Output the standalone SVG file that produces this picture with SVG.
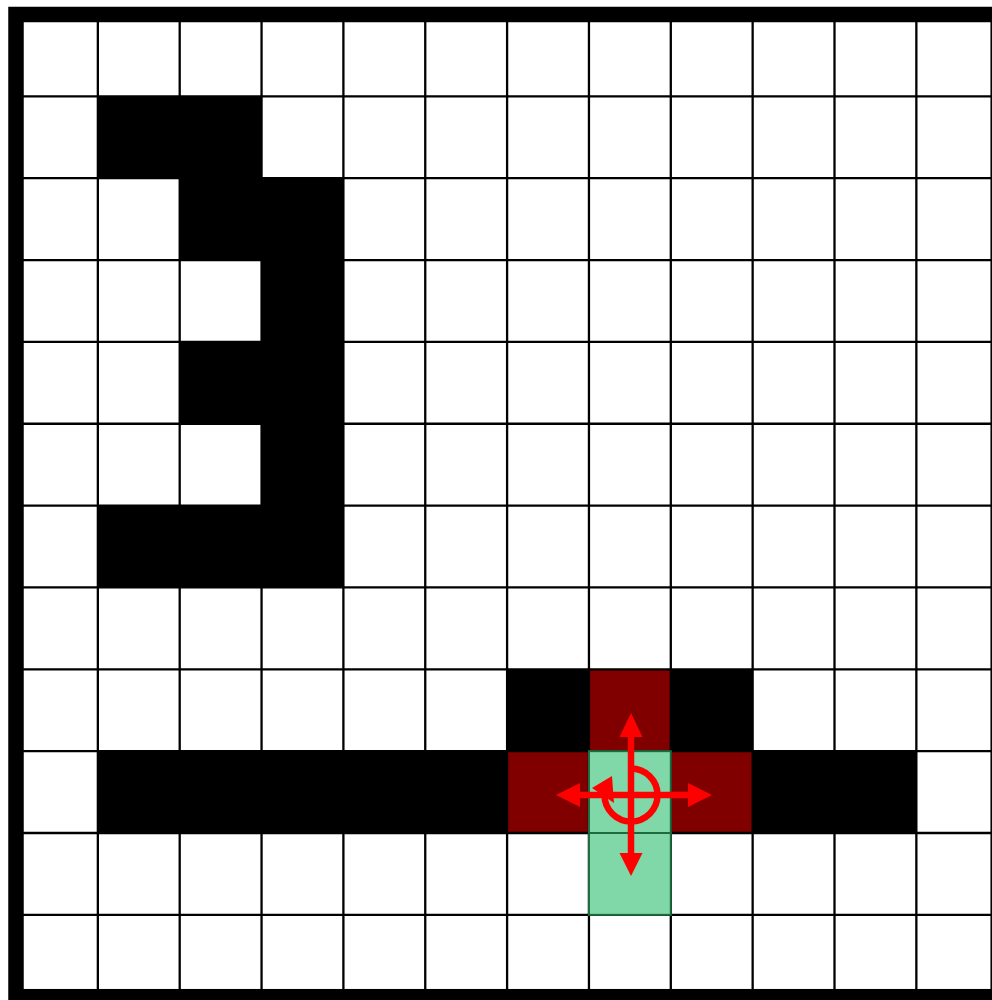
<svg xmlns="http://www.w3.org/2000/svg" width="992" height="1000" viewBox="0 0 992 1000">
<style>
.blk{fill:#000}
.red{fill:#800000}
.grn{fill:#80d8a8;stroke:#1f6a3e;stroke-width:2}
.gl{stroke:#000;stroke-width:2.3}
.arr{fill:#ff0000}
.shaft{stroke:#ff0000;stroke-width:6.5;fill:none}
</style>
<rect id="background" x="0" y="0" width="992" height="1000" fill="#fff"/>
<g id="walls">
<rect class="blk" x="97.85" y="96.35" width="163.7" height="81.85"/>
<rect class="blk" x="179.7" y="178.2" width="163.7" height="81.85"/>
<rect class="blk" x="261.55" y="260.05" width="81.85" height="81.85"/>
<rect class="blk" x="179.7" y="341.9" width="163.7" height="81.85"/>
<rect class="blk" x="261.55" y="423.75" width="81.85" height="81.85"/>
<rect class="blk" x="97.85" y="505.6" width="245.55" height="81.85"/>
<rect class="blk" x="507.1" y="669.3" width="81.85" height="81.85"/>
<rect class="blk" x="670.8" y="669.3" width="81.85" height="81.85"/>
<rect class="blk" x="97.85" y="751.15" width="409.25" height="81.85"/>
<rect class="blk" x="752.65" y="751.15" width="163.7" height="81.85"/>
</g>
<g id="neighbours">
<rect class="red" x="588.95" y="669.3" width="81.85" height="81.85"/>
<rect class="red" x="507.1" y="751.15" width="81.85" height="81.85"/>
<rect class="red" x="670.8" y="751.15" width="81.85" height="81.85"/>
</g>
<g id="grid">
<line class="gl" x1="97.85" y1="14.5" x2="97.85" y2="996.7"/>
<line class="gl" x1="179.7" y1="14.5" x2="179.7" y2="996.7"/>
<line class="gl" x1="261.55" y1="14.5" x2="261.55" y2="996.7"/>
<line class="gl" x1="343.4" y1="14.5" x2="343.4" y2="996.7"/>
<line class="gl" x1="425.25" y1="14.5" x2="425.25" y2="996.7"/>
<line class="gl" x1="507.1" y1="14.5" x2="507.1" y2="996.7"/>
<line class="gl" x1="588.95" y1="14.5" x2="588.95" y2="996.7"/>
<line class="gl" x1="670.8" y1="14.5" x2="670.8" y2="996.7"/>
<line class="gl" x1="752.65" y1="14.5" x2="752.65" y2="996.7"/>
<line class="gl" x1="834.5" y1="14.5" x2="834.5" y2="996.7"/>
<line class="gl" x1="916.35" y1="14.5" x2="916.35" y2="996.7"/>
<line class="gl" x1="16" y1="96.35" x2="998.2" y2="96.35"/>
<line class="gl" x1="16" y1="178.2" x2="998.2" y2="178.2"/>
<line class="gl" x1="16" y1="260.05" x2="998.2" y2="260.05"/>
<line class="gl" x1="16" y1="341.9" x2="998.2" y2="341.9"/>
<line class="gl" x1="16" y1="423.75" x2="998.2" y2="423.75"/>
<line class="gl" x1="16" y1="505.6" x2="998.2" y2="505.6"/>
<line class="gl" x1="16" y1="587.45" x2="998.2" y2="587.45"/>
<line class="gl" x1="16" y1="669.3" x2="998.2" y2="669.3"/>
<line class="gl" x1="16" y1="751.15" x2="998.2" y2="751.15"/>
<line class="gl" x1="16" y1="833" x2="998.2" y2="833"/>
<line class="gl" x1="16" y1="914.85" x2="998.2" y2="914.85"/>
</g>
<g id="path-cells">
<rect class="grn" x="588.95" y="751.15" width="81.85" height="81.85"/>
<rect class="grn" x="588.95" y="833" width="81.85" height="81.85"/>
</g>
<rect id="frame" x="16" y="14.5" width="982.2" height="982.2" fill="none" stroke="#000" stroke-width="15.5"/>
<g id="actions">
<line class="shaft" x1="631" y1="735" x2="631" y2="855"/>
<line class="shaft" x1="578" y1="795" x2="690" y2="795"/>
<polygon class="arr" points="631,713 619.5,737 642.5,737"/>
<polygon class="arr" points="631,876 619.5,853 642.5,853"/>
<polygon class="arr" points="556,795 580,783 580,807"/>
<polygon class="arr" points="712,795 688,783 688,807"/>
<path class="shaft" d="M631 768.5 A26.5 26.5 0 1 1 604.5 795"/>
<polygon class="arr" points="592,788 612,776 614,803"/>
</g>
</svg>
